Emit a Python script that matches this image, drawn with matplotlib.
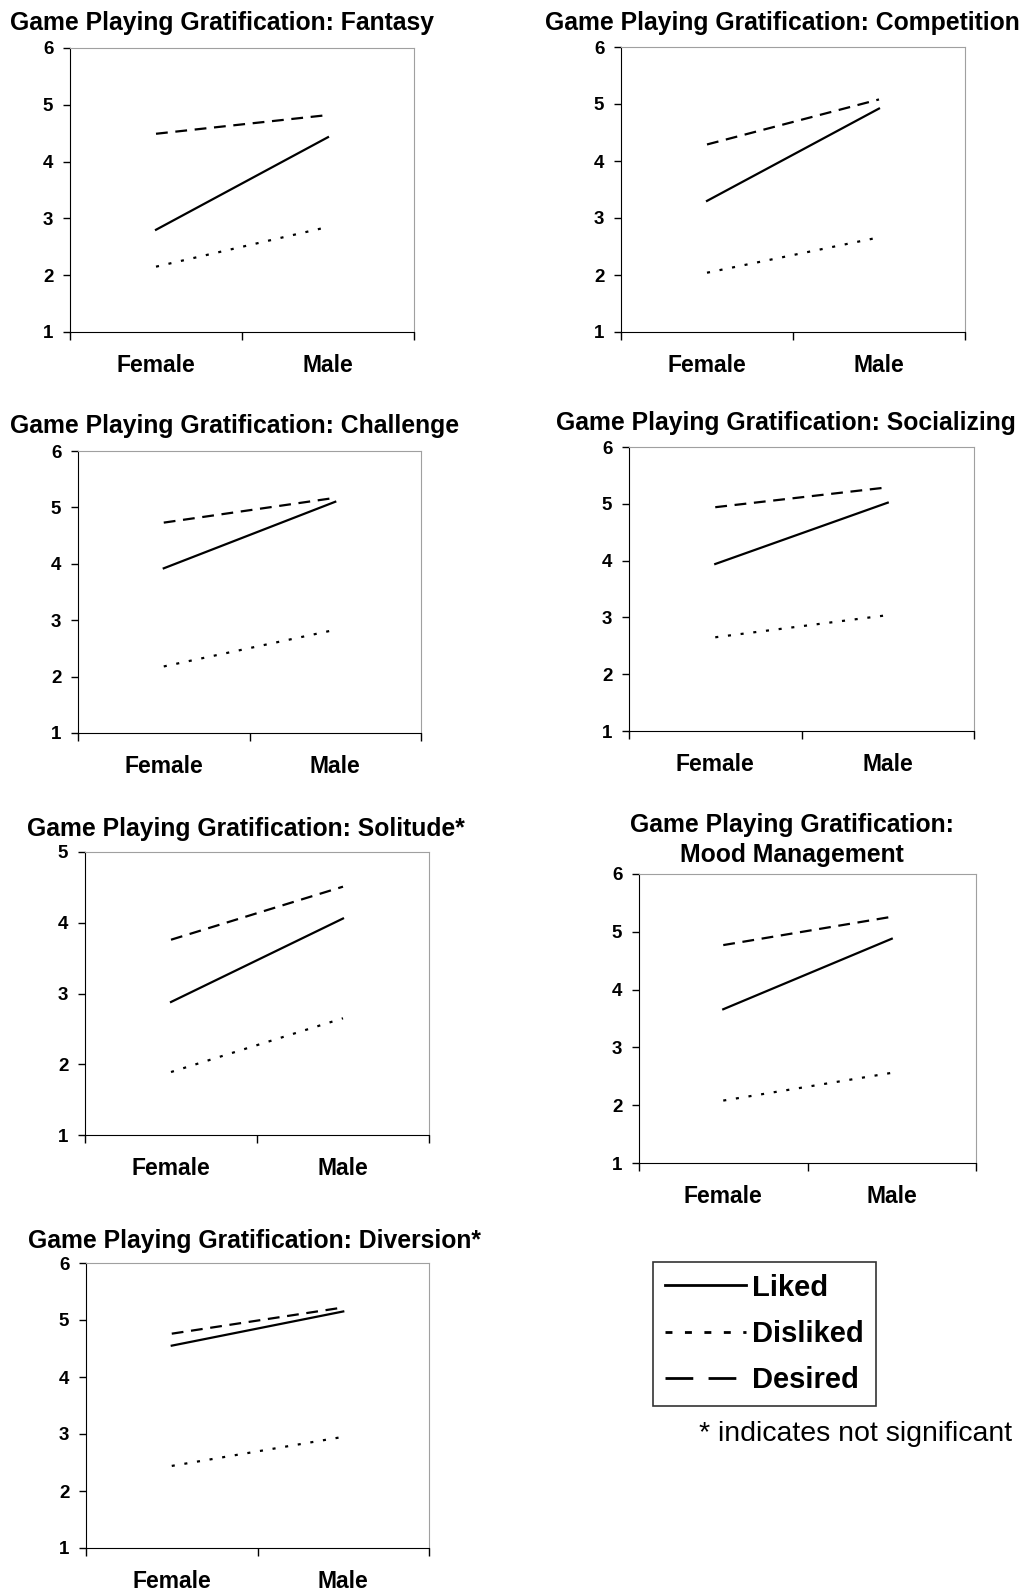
import numpy as np
import matplotlib
matplotlib.use("Agg")
import matplotlib.pyplot as plt
from matplotlib.lines import Line2D

plt.rcParams['font.family'] = ['Liberation Sans', 'DejaVu Sans']
plt.rcParams['font.weight'] = 'bold'
plt.rcParams['lines.scale_dashes'] = False

groups = ["Female", "Male"]
series = ["Liked", "Disliked", "Desired"]

titles = [
    "Game Playing Gratification: Fantasy",
    "Game Playing Gratification: Competition",
    "Game Playing Gratification: Challenge",
    "Game Playing Gratification: Socializing",
    "Game Playing Gratification: Solitude*",
    "Game Playing Gratification:\nMood Management",
    "Game Playing Gratification: Diversion*",
]

liked = [[2.80, 4.43], [3.30, 4.92], [3.92, 5.10], [3.94, 5.02],
         [2.88, 4.06], [3.66, 4.88], [4.55, 5.15]]
disliked = [[2.15, 2.85], [2.04, 2.66], [2.18, 2.83], [2.65, 3.04],
            [1.89, 2.65], [2.08, 2.56], [2.44, 2.95]]
desired = [[4.49, 4.82], [4.29, 5.08], [4.73, 5.17], [4.94, 5.29],
           [3.76, 4.51], [4.77, 5.26], [4.76, 5.22]]
y_max = [6, 6, 6, 6, 5, 6, 6]

W, H = 1025, 1593
# axes boxes in pixels: left, top, right, bottom
boxes = [(70, 48, 414, 332), (621, 47, 965, 332),
         (78, 451, 421, 733), (629, 447, 974, 731),
         (85, 852, 429, 1135), (639, 874, 976, 1163),
         (86, 1263, 429, 1548)]
# title centre in pixels
title_pos = [(222, 23), (782, 23), (235, 426), (786, 423),
             (246, 829), (792, 840), (255, 1241)]

styles = {
    "Liked": dict(linestyle="-"),
    "Disliked": dict(linestyle=(0, (2.2, 7.0))),
    "Desired": dict(linestyle=(0, (8.5, 5.5))),
}

fig = plt.figure(figsize=(W / 100, H / 100), dpi=100)

x = np.arange(len(groups)) + 0.5
for i in range(len(titles)):
    l, t, r, b = boxes[i]
    ax = fig.add_axes([l / W, 1 - b / H, (r - l) / W, (b - t) / H])
    for name, vals in zip(series, [liked[i], disliked[i], desired[i]]):
        ax.plot(x, vals, color="black", lw=1.6, **styles[name])
    ax.set_xlim(0, len(groups))
    ax.set_ylim(1, y_max[i])
    ax.set_yticks(range(1, y_max[i] + 1))
    ax.set_xticks([0, 1, 2])
    ax.set_xticklabels([])
    ax.set_xticks(x, minor=True)
    ax.set_xticklabels(groups, minor=True, fontsize=16.5, fontweight="bold")
    ax.tick_params(axis="x", which="minor", length=0, pad=16)
    ax.tick_params(axis="x", which="major", direction="out", length=6, width=1)
    ax.tick_params(axis="y", direction="out", length=5, width=1, pad=7, labelsize=13.5)
    for lab in ax.get_yticklabels():
        lab.set_fontweight("bold")
    for s in ["top", "right"]:
        ax.spines[s].set_color("#a0a0a0")
    for s in ["left", "bottom"]:
        ax.spines[s].set_color("black")
    tx, ty = title_pos[i]
    fig.text(tx / W, 1 - ty / H, titles[i], ha="center", va="center",
             fontsize=17.8, fontweight="bold", linespacing=1.3)

handles = [
    Line2D([], [], color="black", lw=2, linestyle="-"),
    Line2D([], [], color="black", lw=2, linestyle=(0, (5, 9))),
    Line2D([], [], color="black", lw=2, linestyle=(0, (20, 11))),
]
leg = fig.legend(handles, series, loc="upper left",
                 bbox_to_anchor=(653 / W, 1 - 1262 / H),
                 prop=dict(size=21, weight="bold"), handlelength=2.8,
                 handletextpad=0.2, borderpad=0.4, labelspacing=0.62,
                 borderaxespad=0, fancybox=False, frameon=True)
leg.get_frame().set_edgecolor("black")
leg.get_frame().set_linewidth(1.2)

fig.text(856 / W, 1 - 1434 / H, "* indicates not significant", ha="center",
         va="center", fontsize=20.5, fontweight="normal")

fig.savefig("out.png", dpi=100)
